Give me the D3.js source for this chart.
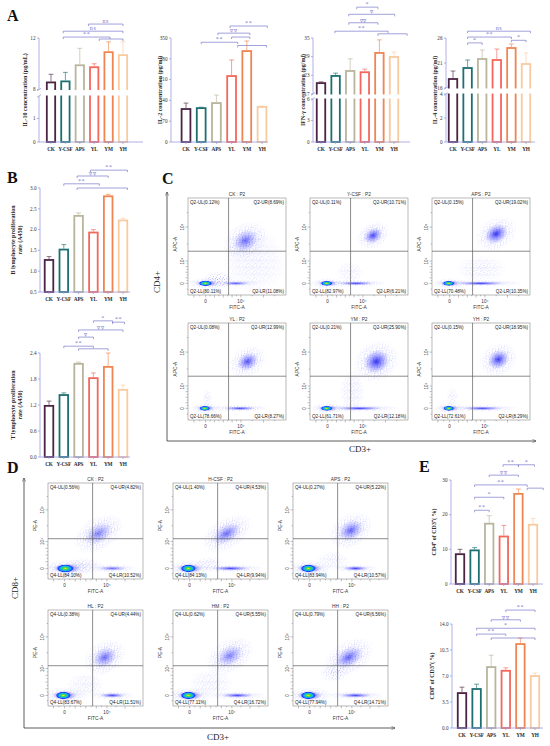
<!DOCTYPE html>
<html>
<head>
<meta charset="utf-8">
<title>Cytokines and lymphocytes</title>
<script src="https://d3js.org/d3.v7.min.js"></script>
<style>
  body { margin: 0; background: #fff; }
  text { font-family: "Liberation Serif", serif; }
  .flow text { font-family: "Liberation Sans", Arial, sans-serif; }
</style>
</head>
<body>
<script>
var width = 550, height = 746;

// groups and colours
var groups = ["CK", "Y-CSF", "APS", "YL", "YM", "YH"];
var colors = ["#4b2443", "#1d6f70", "#b9b49c", "#f4675a", "#ef8550", "#f8caa0"];

// bar values (mean) and sd
var il10 = [8.55, 8.63, 9.88, 9.73, 10.9, 10.67];
var il10Sd = [0.63, 0.7, 1.32, 0.27, 0.8, 1.03];
var il2 = [111, 114, 131, 222, 306, 118];
var il2Sd = [20, 3, 27, 54, 34, 3];
var ifn = [20.5, 22.8, 24.4, 24.0, 30.2, 28.9];
var ifnSd = [0.4, 0.9, 3.9, 1.0, 4.2, 1.6];
var il4 = [17.8, 20.0, 21.8, 21.6, 24.0, 20.8];
var il4Sd = [1.6, 1.6, 1.8, 2.2, 0.8, 2.2];
var bcell = [1.27, 1.52, 2.33, 1.93, 2.80, 2.22];
var bcellSd = [0.08, 0.12, 0.07, 0.07, 0.05, 0.05];
var tcell = [1.18, 1.43, 2.15, 1.82, 2.08, 1.55];
var tcellSd = [0.11, 0.05, 0.04, 0.12, 0.32, 0.11];
var cd4 = [8.6, 9.7, 17.4, 13.7, 26.0, 17.1];
var cd4Sd = [1.4, 0.8, 2.3, 3.2, 1.4, 1.8];
var cd8 = [4.7, 5.25, 8.2, 7.7, 11.3, 7.0];
var cd8Sd = [0.8, 0.65, 1.6, 0.4, 0.8, 0.4];

// significance brackets: [from group, to group, label, level]
var il10Br = [[2.6, 5, "ns", 2.3], [0.85, 5, "ns", 1.2], [0.85, 4.1, "**", 0.3], [3.35, 5, "", 0]];
var il2Br = [[2.9, 5.35, "**", 2], [2.1, 4.2, "▽▽", 0.9], [3, 4.2, "", 0.3], [1, 3.4, "**", -0.5], [3.4, 5.3, "", -1]];
var ifnBr = [[2.45, 3.9, "*", 4.9], [1.9, 5.05, "▽", 3.8], [1.9, 3.9, "▽▽", 2.5], [0.95, 4.6, "**", 1.2], [3.9, 5.9, "", 0.8]];
var il4Br = [[1, 5.3, "ns", 1.2], [1, 4, "**", 0.3], [4, 5, "*", -0.2], [1, 2, "*", -0.6]];
var bBr = [[2.8, 5.3, "**", 2.9], [1.9, 4, "▽▽", 2], [1, 3.4, "**", 0.8], [1.9, 5.3, "", 0.15]];
var tBr = [[3, 4.3, "*", 5.1], [4.3, 5.1, "**", 4.9], [2, 5, "▽▽", 3.7], [2, 3, "▽", 2.6], [1, 3, "**", 1.2], [2, 4, "", 0.8]];
var cd4Br = [[2.95, 4, "**", 2.5], [4, 5.1, "*", 2.5], [2, 4, "▽▽", 0.9], [1, 4.6, "**", -0.6], [4.6, 5.7, "", -1.1], [1, 3, "*", -2.5], [1, 2, "**", -4.5]];
var cd8Br = [[3, 5, "**", 2.3], [2, 4, "▽▽", 0.8], [1, 5, "*", -0.5], [1, 3, "**", -1.4], [2, 5, "", -2]];

// flow cytometry: quadrant percentages [UL, UR, LL, LR]
var cSamples = ["CK", "Y-CSF", "APS", "YL", "YM", "YH"];
var cPct = [[0.12, 8.69, 80.11, 11.08], [0.11, 10.71, 82.97, 6.21], [0.15, 19.02, 70.48, 10.35],
            [0.08, 12.99, 78.66, 8.27], [0.21, 25.90, 61.71, 12.18], [0.15, 18.95, 72.61, 8.29]];
var dSamples = ["CK", "H-CSF", "APS", "HL", "HM", "HH"];
var dPct = [[0.56, 4.82, 84.10, 10.52], [1.40, 4.53, 84.13, 9.94], [0.27, 5.22, 83.94, 10.57],
            [0.38, 4.44, 83.67, 11.51], [0.62, 5.55, 77.11, 16.72], [0.79, 6.56, 77.94, 14.71]];
// event clusters [x, y, spread x, spread y, density, hot core] in axis units
var cClusters = [
  [[0.1, 0, 1.25, 0.6, 1, 1], [1.4, 0.6, 1.6, 1.3, 0.45, 0], [3.4, 0, 1.0, 0.35, 0.8, 0], [4.2, 4.6, 0.6, 0.3, 0.7, 0], [4.6, 3.9, 1.2, 0.9, 0.2, 0]],
  [[0, 0, 1.1, 0.55, 1, 1], [3.2, 0, 1.3, 0.35, 0.9, 0], [4.45, 4.75, 0.45, 0.22, 0.9, 0], [2.5, 2.0, 1.4, 1.6, 0.18, 0]],
  [[0, 0, 1.1, 0.55, 1, 1], [3.5, 0, 1.4, 0.35, 0.95, 0], [4.5, 4.8, 0.55, 0.28, 1, 0], [3.6, 2.6, 1.2, 1.5, 0.22, 0]],
  [[0, 0, 1.0, 0.55, 1, 1], [3.9, 0, 0.8, 0.35, 0.9, 0], [4.3, 4.72, 0.5, 0.25, 0.85, 0], [0.2, 1.8, 0.5, 1.4, 0.25, 0]],
  [[0, 0, 1.1, 0.55, 1, 1], [3.6, 0, 1.3, 0.35, 0.95, 0], [4.6, 4.72, 0.6, 0.35, 1, 0], [2.8, 3.0, 1.2, 1.4, 0.28, 0]],
  [[0, 0, 1.0, 0.55, 1, 1], [3.7, 0, 1.1, 0.35, 0.9, 0], [4.6, 4.78, 0.5, 0.28, 0.95, 0], [0.3, 2.0, 0.6, 1.5, 0.2, 0]]
];
var dClusters = [
  [[0.2, 0, 1.35, 0.75, 1, 1], [1.8, 0.4, 1.6, 1.0, 0.45, 0], [4.3, 0, 0.8, 0.35, 0.7, 0], [3.2, 4.25, 1.2, 0.3, 0.6, 0]],
  [[0, 0, 1.2, 0.7, 1, 1], [3.9, 0, 1.1, 0.35, 0.9, 0], [3.5, 4.25, 1.1, 0.28, 0.7, 0], [1.8, 0.8, 1.2, 0.8, 0.25, 0]],
  [[0, 0, 1.2, 0.7, 1, 1], [4.2, 0, 0.7, 0.35, 0.95, 0], [3.9, 4.35, 0.8, 0.3, 0.75, 0], [2.2, 1.2, 1.4, 1.2, 0.2, 0]],
  [[0, 0, 1.2, 0.7, 1, 1], [4.3, 0, 0.7, 0.35, 0.9, 0], [3.8, 4.35, 0.8, 0.3, 0.7, 0], [2, 1.5, 1.6, 1.6, 0.2, 0]],
  [[0, 0, 1.2, 0.7, 1, 1], [4.3, 0, 0.9, 0.35, 0.9, 0], [3.8, 4.4, 0.9, 0.3, 0.6, 0], [2, 1.8, 1.8, 1.8, 0.2, 0]],
  [[0, 0, 1.2, 0.7, 1, 1], [4.2, 0, 0.9, 0.35, 0.9, 0], [3.7, 4.35, 1.0, 0.3, 0.75, 0], [2.3, 3.3, 1.2, 0.8, 0.3, 0]]
];
var flowXTicks = [[0, "0"], [4, "10⁴"]];
var flowYTicks = [[0, "0"], [4, "10⁴"], [5, "10⁵"]];

var axisColor = "#9c9ce2", brColor = "#7a7acc";

var svg = d3.select("body").append("svg").attr("width", width).attr("height", height);
var defs = svg.append("defs");

// gradients for the dot plots
var gb = defs.append("radialGradient").attr("id", "blueCore");
gb.append("stop").attr("offset", "0%").attr("stop-color", "#1212e8").attr("stop-opacity", 0.85);
gb.append("stop").attr("offset", "45%").attr("stop-color", "#2d2dff").attr("stop-opacity", 0.45);
gb.append("stop").attr("offset", "100%").attr("stop-color", "#6060ff").attr("stop-opacity", 0);
var gh = defs.append("radialGradient").attr("id", "hot");
gh.append("stop").attr("offset", "0%").attr("stop-color", "#ffe800");
gh.append("stop").attr("offset", "30%").attr("stop-color", "#36d866");
gh.append("stop").attr("offset", "62%").attr("stop-color", "#10a8f0");
gh.append("stop").attr("offset", "82%").attr("stop-color", "#1540ff");
gh.append("stop").attr("offset", "100%").attr("stop-color", "#1a1aff").attr("stop-opacity", 0);
var gf = defs.append("radialGradient").attr("id", "fadeGrad");
gf.append("stop").attr("offset", "0%").attr("stop-color", "#fff");
gf.append("stop").attr("offset", "60%").attr("stop-color", "#999");
gf.append("stop").attr("offset", "100%").attr("stop-color", "#000");
defs.append("mask").attr("id", "fade").attr("maskContentUnits", "objectBoundingBox")
  .append("rect").attr("width", 1).attr("height", 1).attr("fill", "url(#fadeGrad)");
var pat = defs.append("pattern").attr("id", "dots").attr("patternUnits", "userSpaceOnUse")
  .attr("width", 7).attr("height", 7);
[[0.8, 1.2], [3.6, 0.6], [2.2, 3.4], [5.1, 3.9], [0.9, 5.2], [4.0, 5.4], [6.3, 1.9], [2.6, 6.5], [6.1, 6.2]].forEach(function (p) {
  pat.append("rect").attr("x", p[0]).attr("y", p[1]).attr("width", 0.7).attr("height", 0.7).attr("fill", "#2020ff");
});

// ---------- bar charts ----------
function barChart(c) {
  var y = d3.scaleLinear().domain(c.dom).range(c.rng);
  var x = d3.scalePoint().domain(groups).range([c.c0, c.c1]);
  var step = x.step();
  var bw = step * 0.58;
  var g = svg.append("g");

  g.selectAll("rect.bar").data(c.vals).enter().append("rect")
    .attr("x", function (d, i) { return x(groups[i]) - bw / 2; })
    .attr("y", function (d) { return y(d); })
    .attr("width", bw)
    .attr("height", function (d) { return c.bot - y(d); })
    .attr("fill", "#fff")
    .attr("stroke", function (d, i) { return colors[i]; })
    .attr("stroke-width", 1.8);

  // error bars
  c.vals.forEach(function (v, i) {
    var cx = x(groups[i]), yt = y(v + c.sd[i]);
    g.append("path")
      .attr("d", "M" + cx + "," + (y(v) - 1) + "V" + yt + "M" + (cx - 2.4) + "," + yt + "H" + (cx + 2.4))
      .attr("stroke", colors[i]).attr("stroke-width", 0.8).attr("fill", "none").attr("opacity", 0.8);
  });

  var brk = c.dom.length === 4;
  if (brk) {
    g.append("rect").attr("x", c.x0 + 1).attr("y", c.rng[2] + 0.5)
      .attr("width", c.xe - c.x0).attr("height", c.rng[1] - c.rng[2] - 1).attr("fill", "#fff");
  }

  // y axis
  var ax = g.append("g").attr("stroke", axisColor).attr("stroke-width", 0.8).attr("fill", "none");
  if (brk) {
    ax.append("path").attr("d", "M" + c.x0 + "," + c.top + "V" + c.rng[2] + "M" + c.x0 + "," + c.rng[1] + "V" + c.bot);
    [c.rng[1], c.rng[2]].forEach(function (yy) {
      ax.append("path").attr("d", "M" + (c.x0 - 2) + "," + (yy + 1.3) + "L" + (c.x0 + 2) + "," + (yy - 1.3));
    });
  } else {
    ax.append("path").attr("d", "M" + c.x0 + "," + c.top + "V" + c.bot);
  }
  ax.append("path").attr("d", "M" + c.x0 + "," + c.bot + "H" + c.xe);
  c.ticks.forEach(function (t) {
    ax.append("path").attr("d", "M" + (c.x0 - 2) + "," + y(t) + "H" + c.x0);
    g.append("text").attr("x", c.x0 - 3.5).attr("y", y(t) + 1.8).attr("text-anchor", "end")
      .attr("font-size", 5.2).attr("fill", "#333").text(c.fmt ? d3.format(c.fmt)(t) : t);
  });
  groups.forEach(function (gr) {
    ax.append("path").attr("d", "M" + x(gr) + "," + c.bot + "V" + (c.bot + 2));
    g.append("text").attr("x", x(gr)).attr("y", c.bot + 8.5).attr("text-anchor", "middle")
      .attr("font-size", 5.3).attr("font-weight", "bold").attr("letter-spacing", -0.15)
      .attr("fill", "#2a2a2a").text(gr);
  });

  // y label
  var my = (c.top + c.bot) / 2;
  c.lab.forEach(function (l, k) {
    g.append("text").attr("transform", "translate(" + (c.labX + k * 7) + "," + my + ") rotate(-90)")
      .attr("text-anchor", "middle").attr("font-size", 6).attr("font-weight", "bold").attr("fill", "#2a2a2a")
      .text(l);
  });

  // brackets
  c.br.forEach(function (b) {
    var xa = c.c0 + b[0] * step, xb = c.c0 + b[1] * step, yy = c.top + 1 - b[3] * 6.5;
    g.append("path").attr("d", "M" + xa + "," + (yy + 2) + "V" + yy + "H" + xb + "V" + (yy + 2))
      .attr("stroke", brColor).attr("stroke-width", 0.7).attr("fill", "none");
    if (b[2]) {
      var tri = b[2].indexOf("▽") >= 0;
      g.append("text").attr("x", (xa + xb) / 2).attr("y", yy - 1.2).attr("text-anchor", "middle")
        .attr("font-family", tri ? "DejaVu Sans" : null)
        .attr("font-size", tri ? 4.4 : 6).attr("font-weight", tri ? "bold" : null).attr("fill", brColor)
        .attr("letter-spacing", 0.6).text(b[2]);
    }
  });
}

var charts = [
  { vals: il10, sd: il10Sd, br: il10Br, x0: 39, c0: 51, c1: 123, xe: 143, top: 38, bot: 142,
    dom: [0, 1.95, 8, 12], rng: [142, 96, 89.5, 38], ticks: [0, 1, 8, 12], lab: ["IL-10 concentration (pg/mL)"], labX: 27 },
  { vals: il2, sd: il2Sd, br: il2Br, x0: 171, c0: 186, c1: 262, xe: 268, top: 38, bot: 142,
    dom: [0, 350], rng: [142, 38], ticks: [0, 70, 140, 210, 280, 350], lab: ["IL-2 concentration (pg/ml)"], labX: 162 },
  { vals: ifn, sd: ifnSd, br: ifnBr, x0: 313, c0: 321, c1: 394, xe: 410, top: 38, bot: 142,
    dom: [0, 6, 17, 35], rng: [142, 99, 94, 38], ticks: [0, 3, 6, 17, 23, 29, 35], lab: ["IFN-γ concentration (pg/ml)"], labX: 305 },
  { vals: il4, sd: il4Sd, br: il4Br, x0: 446, c0: 453, c1: 526, xe: 535, top: 38, bot: 142,
    dom: [0, 4, 16, 26], rng: [142, 94, 88, 38], ticks: [0, 2, 4, 16, 21, 26], lab: ["IL-4 concentration (pg/ml)"], labX: 437 },
  { vals: bcell, sd: bcellSd, br: bBr, x0: 40, c0: 49, c1: 123, xe: 130, top: 188, bot: 292,
    dom: [0.5, 3], rng: [292, 188], ticks: [0.5, 1, 1.5, 2, 2.5, 3], fmt: ".1f",
    lab: ["B lymphocyte proliferation", "rate (A450)"], labX: 15 },
  { vals: tcell, sd: tcellSd, br: tBr, x0: 40, c0: 49, c1: 123, xe: 130, top: 353, bot: 457,
    dom: [0, 2.4], rng: [457, 353], ticks: [0, 0.6, 1.2, 1.8, 2.4], fmt: ".1f",
    lab: ["T lymphocyte proliferation", "rate (A450)"], labX: 15 },
  { vals: cd4, sd: cd4Sd, br: cd4Br, x0: 451, c0: 460, c1: 533, xe: 543, top: 480, bot: 584,
    dom: [0, 30], rng: [584, 480], ticks: [0, 10, 20, 30], lab: ["CD4⁺ of CD3⁺( %)"], labX: 436 },
  { vals: cd8, sd: cd8Sd, br: cd8Br, x0: 452, c0: 462, c1: 535, xe: 543, top: 624, bot: 728,
    dom: [0, 14], rng: [728, 624], ticks: [0, 3.5, 7, 10.5, 14], fmt: ".1f", lab: ["CD8⁺ of CD3⁺( %)"], labX: 434 }
];
charts.forEach(barChart);

// ---------- flow cytometry dot plots ----------
var cScale = { xd: [-1.5, 0, 4, 6], xf: [0, 0.18, 0.54, 1], yd: [-1, 0, 4, 5, 6], yf: [0, 0.12, 0.35, 0.70, 1], gx: 2.6, gy: 4.29 };
var dScale = { xd: [-1.5, 0, 4, 6], xf: [0, 0.175, 0.62, 1], yd: [-1, 0, 4, 5, 6], yf: [0, 0.11, 0.39, 0.72, 1], gx: 2.65, gy: 4.09 };

function flowPlot(id, bx, by, bw, bh, name, pct, clusters, prefix, yName, sc) {
  var fx = d3.scaleLinear().domain(sc.xd).range(sc.xf.map(function (f) { return bx + f * bw; }));
  var fy = d3.scaleLinear().domain(sc.yd).range(sc.yf.map(function (f) { return by + bh - f * bh; }));
  var g = svg.append("g").attr("class", "flow");
  defs.append("clipPath").attr("id", id).append("rect").attr("x", bx).attr("y", by).attr("width", bw).attr("height", bh);
  var cl = g.append("g").attr("clip-path", "url(#" + id + ")");
  clusters.forEach(function (c) {
    var cx = fx(c[0]), cy = fy(c[1]);
    var rx = Math.abs(fx(c[0] + c[2]) - cx), ry = Math.abs(fy(c[1] + c[3]) - cy);
    var rot = c[1] > sc.gy ? -30 : 0;
    var e = cl.append("g").attr("transform", "translate(" + cx + "," + cy + ") rotate(" + rot + ")");
    var sparse = c[4] < 0.5;
    e.append("ellipse").attr("rx", rx * (sparse ? 1.2 : 1.8)).attr("ry", ry * (sparse ? 1.2 : 1.8))
      .attr("fill", "url(#dots)").attr("mask", "url(#fade)").attr("opacity", sparse ? 0.35 + c[4] : 0.9);
    if (!sparse) {
      e.append("ellipse").attr("rx", rx).attr("ry", ry).attr("fill", "url(#blueCore)").attr("opacity", c[4]);
    }
    if (c[5]) e.append("ellipse").attr("cx", -rx * 0.1).attr("rx", rx * 0.6).attr("ry", ry * 0.8).attr("fill", "url(#hot)");
  });

  g.append("rect").attr("x", bx).attr("y", by).attr("width", bw).attr("height", bh)
    .attr("fill", "none").attr("stroke", "#8a8a8a").attr("stroke-width", 0.6);
  g.append("path").attr("d", "M" + fx(sc.gx) + "," + by + "V" + (by + bh) + "M" + bx + "," + fy(sc.gy) + "H" + (bx + bw))
    .attr("stroke", "#5a5a5a").attr("stroke-width", 0.7);

  // minor ticks
  var tk = g.append("g").attr("stroke", "#666").attr("stroke-width", 0.4);
  d3.range(-1, 6.01, 0.5).forEach(function (v) {
    var yy = fy(v);
    if (yy > by && yy < by + bh) tk.append("path").attr("d", "M" + (bx - (v % 1 === 0 ? 2.5 : 1.3)) + "," + yy + "H" + bx);
  });
  d3.range(-1.5, 6.01, 0.5).forEach(function (v) {
    var xx = fx(v);
    if (xx > bx && xx < bx + bw) tk.append("path").attr("d", "M" + xx + "," + (by + bh) + "V" + (by + bh + (v % 1 === 0 ? 2.5 : 1.3)));
  });

  flowXTicks.forEach(function (t) {
    g.append("text").attr("x", fx(t[0])).attr("y", by + bh + 7.5).attr("text-anchor", "middle")
      .attr("font-size", 4.6).attr("fill", "#333").text(t[1]);
  });
  flowYTicks.forEach(function (t) {
    g.append("text").attr("transform", "translate(" + (bx - 4) + "," + fy(t[0]) + ") rotate(-90)")
      .attr("text-anchor", "middle").attr("font-size", 4.6).attr("fill", "#333").text(t[1]);
  });
  g.append("text").attr("x", bx + bw / 2).attr("y", by + bh + 13.5).attr("text-anchor", "middle")
    .attr("font-size", 4.8).attr("fill", "#333").text("FITC-A");
  g.append("text").attr("transform", "translate(" + (bx - 11) + "," + fy(4.5) + ") rotate(-90)")
    .attr("text-anchor", "middle").attr("font-size", 4.8).attr("fill", "#333").text(yName);
  g.append("text").attr("x", bx + bw / 2).attr("y", by - 2.5).attr("text-anchor", "middle")
    .attr("font-size", 4.8).attr("fill", "#333").text(name + " : P2");

  var q = [["UL", bx + 2, by + 6, "start"], ["UR", bx + bw - 2, by + 6, "end"],
           ["LL", bx + 2, by + bh - 2, "start"], ["LR", bx + bw - 2, by + bh - 2, "end"]];
  q.forEach(function (d, k) {
    g.append("text").attr("x", d[1]).attr("y", d[2]).attr("text-anchor", d[3])
      .attr("font-size", 4.6).attr("fill", "#222")
      .text(prefix + "-" + d[0] + "(" + d3.format(".2f")(pct[k]) + "%)");
  });
}

var cCols = [188, 310, 432], cRows = [198, 323];
cSamples.forEach(function (s, i) {
  flowPlot("clipC" + i, cCols[i % 3], cRows[Math.floor(i / 3)], 98, 97, s, cPct[i], cClusters[i], "Q2", "APC-A", cScale);
});
var dCols = [48, 173, 293], dRows = [483, 610];
dSamples.forEach(function (s, i) {
  flowPlot("clipD" + i, dCols[i % 3], dRows[Math.floor(i / 3)], 95, 96, s, dPct[i], dClusters[i], "Q4", "PE-A", dScale);
});

// arrows framing the dot-plot panels
defs.append("marker").attr("id", "arr").attr("viewBox", "0 0 10 10").attr("refX", 9).attr("refY", 5)
  .attr("markerWidth", 5).attr("markerHeight", 5).attr("orient", "auto")
  .append("path").attr("d", "M0,1L10,5L0,9").attr("fill", "none").attr("stroke", "#333").attr("stroke-width", 1.2);
function frame(x0, y0, yTop, xRight, yLab, xLabPos, yLabPos) {
  svg.append("path").attr("d", "M" + x0 + "," + y0 + "V" + yTop).attr("stroke", "#333").attr("stroke-width", 0.8)
    .attr("marker-end", "url(#arr)");
  svg.append("path").attr("d", "M" + x0 + "," + y0 + "H" + xRight).attr("stroke", "#333").attr("stroke-width", 0.8)
    .attr("marker-end", "url(#arr)");
  svg.append("text").attr("x", xLabPos[0]).attr("y", xLabPos[1]).attr("text-anchor", "middle")
    .attr("font-size", 9).attr("fill", "#222").text("CD3+");
  svg.append("text").attr("transform", "translate(" + yLabPos[0] + "," + yLabPos[1] + ") rotate(-90)")
    .attr("text-anchor", "middle").attr("font-size", 9).attr("fill", "#222").text(yLab);
}
frame(167, 441, 192, 536, "CD4+", [360, 452], [160, 282]);
frame(24, 728, 478, 395, "CD8+", [218, 740], [18, 588]);

// panel letters
[["A", 7, 21], ["B", 7, 183], ["C", 162, 184], ["D", 7, 473], ["E", 419, 472]].forEach(function (p) {
  svg.append("text").attr("x", p[1]).attr("y", p[2]).attr("font-size", 16).attr("font-weight", "bold")
    .attr("fill", "#111").text(p[0]);
});
</script>
</body>
</html>
